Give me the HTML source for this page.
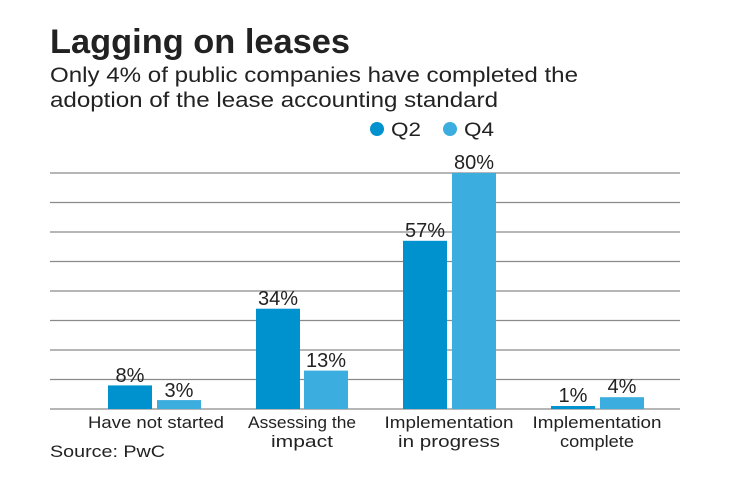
<!DOCTYPE html>
<html><head><style>
body{margin:0;background:#fff;}
svg text{font-family:"Liberation Sans",sans-serif;fill:#222;}
</style></head><body>
<svg width="740" height="482" xmlns="http://www.w3.org/2000/svg">
<rect width="740" height="482" fill="#fff"/>
<text x="50" y="53" font-size="34" font-weight="bold" fill="#111" textLength="300" lengthAdjust="spacingAndGlyphs">Lagging on leases</text>
<text x="50" y="82" font-size="21" textLength="528" lengthAdjust="spacingAndGlyphs">Only 4% of public companies have completed the</text>
<text x="50" y="107" font-size="21" textLength="448" lengthAdjust="spacingAndGlyphs">adoption of the lease accounting standard</text>
<circle cx="377" cy="129" r="7" fill="#0092cf"/>
<text x="391" y="136" font-size="19" textLength="30" lengthAdjust="spacingAndGlyphs">Q2</text>
<circle cx="450" cy="129" r="7" fill="#3badde"/>
<text x="464" y="136" font-size="19" textLength="30" lengthAdjust="spacingAndGlyphs">Q4</text>
<g stroke="#8a8a8a" stroke-width="1.3">
<line x1="50" x2="680" y1="173" y2="173"/>
<line x1="50" x2="680" y1="202.5" y2="202.5"/>
<line x1="50" x2="680" y1="232" y2="232"/>
<line x1="50" x2="680" y1="261.5" y2="261.5"/>
<line x1="50" x2="680" y1="291" y2="291"/>
<line x1="50" x2="680" y1="320.5" y2="320.5"/>
<line x1="50" x2="680" y1="350" y2="350"/>
<line x1="50" x2="680" y1="379.5" y2="379.5"/>
<line x1="50" x2="680" y1="409" y2="409"/>
</g>
<g fill="#0092cf">
<rect x="108" y="385.4" width="44" height="23.6"/>
<rect x="256" y="308.7" width="44" height="100.3"/>
<rect x="403" y="240.8" width="44" height="168.2"/>
<rect x="551" y="406" width="44" height="3"/>
</g>
<g fill="#3badde">
<rect x="157" y="400.1" width="44" height="8.9"/>
<rect x="304" y="370.6" width="44" height="38.4"/>
<rect x="452" y="173" width="44" height="236"/>
<rect x="600" y="397.2" width="44" height="11.8"/>
</g>
<g font-size="20" text-anchor="middle">
<text x="130" y="382">8%</text>
<text x="179" y="397">3%</text>
<text x="278" y="305">34%</text>
<text x="326" y="367">13%</text>
<text x="425" y="237">57%</text>
<text x="474" y="169">80%</text>
<text x="573" y="402">1%</text>
<text x="622" y="393">4%</text>
</g>
<g font-size="17" text-anchor="middle" lengthAdjust="spacingAndGlyphs">
<text x="156" y="428" textLength="136" lengthAdjust="spacingAndGlyphs">Have not started</text>
<text x="302" y="428" textLength="108" lengthAdjust="spacingAndGlyphs">Assessing the</text>
<text x="302" y="447" textLength="62" lengthAdjust="spacingAndGlyphs">impact</text>
<text x="449" y="428" textLength="129" lengthAdjust="spacingAndGlyphs">Implementation</text>
<text x="449" y="447" textLength="102" lengthAdjust="spacingAndGlyphs">in progress</text>
<text x="597" y="428" textLength="129" lengthAdjust="spacingAndGlyphs">Implementation</text>
<text x="597" y="447" textLength="74" lengthAdjust="spacingAndGlyphs">complete</text>
</g>
<text x="50" y="457" font-size="17" textLength="115" lengthAdjust="spacingAndGlyphs">Source: PwC</text>
</svg>
</body></html>
